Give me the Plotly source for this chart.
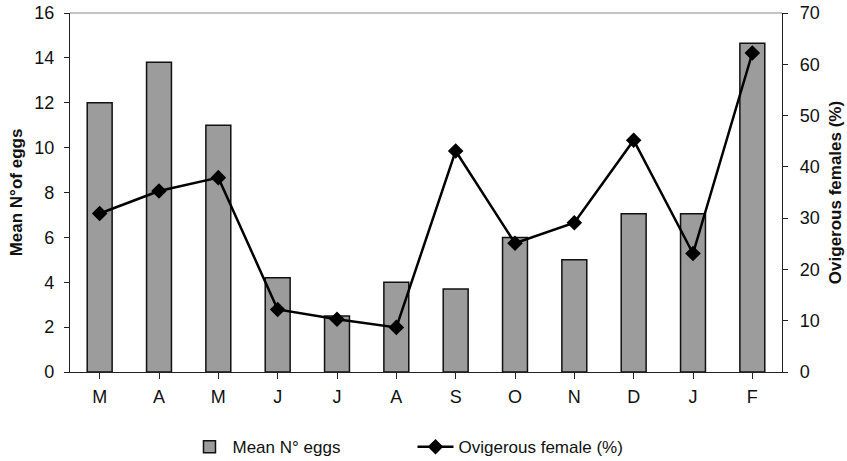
import plotly.graph_objects as go

months = ["M", "A", "M", "J", "J", "A", "S", "O", "N", "D", "J", "F"]
mean_eggs = [12.0, 13.8, 11.0, 4.2, 2.5, 4.0, 3.7, 6.0, 5.0, 7.05, 7.05, 14.65]
ovigerous_pct = [30.9, 35.3, 37.9, 12.2, 10.3, 8.7, 43.1, 25.1, 29.1, 45.2, 23.1, 62.2]

x = list(range(len(months)))
font = "Liberation Sans, Arial, sans-serif"

fig = go.Figure()
fig.add_trace(go.Bar(
    x=x, y=mean_eggs, name="Mean N° eggs",
    marker=dict(color="#9c9c9c", line=dict(color="#111111", width=1.5)),
    width=0.42, yaxis="y",
))
fig.add_trace(go.Scatter(
    x=x, y=ovigerous_pct, name="Ovigerous female (%)", mode="lines+markers",
    line=dict(color="#000000", width=2.5),
    marker=dict(symbol="diamond", size=12, color="#000000"),
    yaxis="y2",
))

fig.update_layout(
    width=847, height=461,
    margin=dict(l=70, r=65, t=13, b=89),
    paper_bgcolor="white", plot_bgcolor="white",
    font=dict(family=font, size=18, color="#111111"),
    showlegend=True,
    legend=dict(orientation="h", x=0.487, xanchor="center", xref="container",
                y=0.03, yanchor="middle", yref="container",
                font=dict(size=17), entrywidth=175, itemwidth=36),
    xaxis=dict(
        tickmode="array", tickvals=x, ticktext=months, automargin=False,
        range=[-0.5, 11.5], showline=True, linecolor="#222222", linewidth=1.2,
        ticks="outside", tickson="boundaries", ticklen=6, tickcolor="#222222",
        showgrid=False, zeroline=False, ticklabelstandoff=2,
        tickfont=dict(size=18),
    ),
    yaxis=dict(
        range=[0, 16], dtick=2, showline=True, linecolor="#222222", linewidth=1.2,
        automargin=False,
        ticks="outside", ticklen=5, tickcolor="#222222", showgrid=False, zeroline=False,
        ticklabelstandoff=6,
        title=dict(text="<b>Mean N°of eggs</b>", font=dict(size=17), standoff=7),
        tickfont=dict(size=18),
    ),
    yaxis2=dict(
        range=[0, 70], dtick=10, overlaying="y", side="right",
        showline=True, linecolor="#222222", linewidth=1.2, automargin=False,
        ticks="outside", ticklen=5, tickcolor="#222222", showgrid=False, zeroline=False,
        ticklabelstandoff=8,
        title=dict(text="<b>Ovigerous females (%)</b>", font=dict(size=17), standoff=10),
        tickfont=dict(size=18),
    ),
    shapes=[dict(type="line", xref="paper", yref="paper", x0=0, x1=1, y0=1, y1=1,
                 line=dict(color="#888888", width=1))],
)

fig.write_html(
    "out.html",
    config={"displayModeBar": False},
    post_script="document.body.style.margin='0';document.body.style.overflow='hidden';",
)
